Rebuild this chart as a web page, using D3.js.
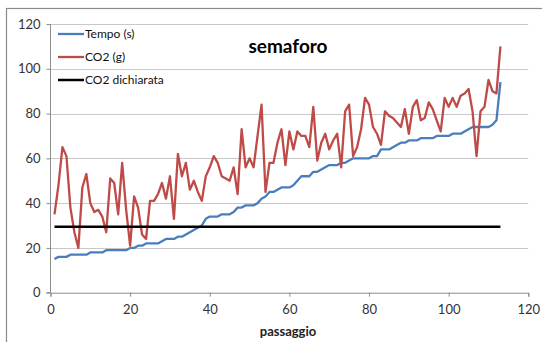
<!DOCTYPE html>
<html><head><meta charset="utf-8">
<script src="https://cdn.jsdelivr.net/npm/d3@7/dist/d3.min.js"></script>
<style>body{margin:0;background:#fff}svg{display:block}</style>
</head><body><svg id="c" width="542" height="342"></svg>
<script>
const passaggio = d3.range(1, 114);
const tempo = [15,16,16,16,17,17,17,17,17,18,18,18,18,19,19,19,19,19,19,20,20,21,21,22,22,22,22,23,24,24,24,25,25,26,27,28,29,30,33,34,34,34,35,35,35,36,38,38,39,39,39,40,42,43,45,45,46,47,47,47,48,50,52,52,52,54,54,55,56,57,57,57,58,58,59,60,60,60,60,60,61,61,64,64,64,65,66,67,67,68,68,68,69,69,69,69,70,70,70,70,71,71,71,72,73,74,74,74,74,74,75,77,94];
const co2 = [35,48,65,61,38,27,20,47,53,40,36,37,34,27,51,49,35,58,37,21,43,38,26,24,41,41,44,49,42,52,33,62,52,58,46,50,45,41,52,56,61,58,52,51,50,56,44,73,56,60,56,70,84,45,58,58,67,73,57,72,64,72,70,70,65,83,59,67,71,64,68,71,56,81,84,61,65,73,87,84,74,71,66,81,79,78,76,74,82,71,83,86,77,78,85,82,77,72,87,83,87,83,88,89,91,81,61,81,83,95,90,89,110];
const co2Dichiarata = 29.4;
const xTicks = [0,20,40,60,80,100,120];
const yTicks = [0,20,40,60,80,100,120];
const seriesNames = ["Tempo (s)","CO2 (g)","CO2 dichiarata"];
const colors = ["#4a7ebb","#be4b48","#000000"];

const svg = d3.select("#c");
const font = "Lato, 'Open Sans', sans-serif";
svg.append("rect").attr("x",6.5).attr("y",8.5).attr("width",600).attr("height",400)
  .attr("fill","#fff").attr("stroke","#8c8c8c").attr("stroke-width",1.2);

const x = d3.scaleLinear().domain([0,120]).range([50.5,528.3]);
const y = d3.scaleLinear().domain([0,120]).range([292.7,24]);

// gridlines
svg.append("g").selectAll("line").data(yTicks.filter(d=>d>0)).join("line")
  .attr("x1",x(0)).attr("x2",x(120)).attr("y1",d=>Math.round(y(d))+0.5).attr("y2",d=>Math.round(y(d))+0.5)
  .attr("stroke","#c8c8c8").attr("stroke-width",1);

// axes
const ya = svg.append("g").attr("transform",`translate(${x(0)},0)`)
  .call(d3.axisLeft(y).tickValues(yTicks).tickSize(4).tickPadding(6));
const xa = svg.append("g").attr("transform",`translate(0,${y(0)})`)
  .call(d3.axisBottom(x).tickValues(xTicks).tickSize(4).tickPadding(8));
[ya,xa].forEach(a=>{
  a.selectAll("path,line").attr("stroke","#8c8c8c");
  a.selectAll("text").attr("font-family",font).attr("font-size",13).attr("fill","#333");
});
ya.select(".domain").attr("d",`M-4,${y(0)}H0V${y(120)}H0`);

const line = (arr)=>d3.line().x((d,i)=>x(passaggio[i])).y(d=>y(d))(arr);
svg.append("path").attr("d",line(tempo)).attr("fill","none").attr("stroke",colors[0]).attr("stroke-width",2.3).attr("stroke-linejoin","round");
svg.append("path").attr("d",line(co2)).attr("fill","none").attr("stroke",colors[1]).attr("stroke-width",2.3).attr("stroke-linejoin","round");
svg.append("line").attr("x1",x(passaggio[0])).attr("x2",x(passaggio[passaggio.length-1]))
  .attr("y1",y(co2Dichiarata)).attr("y2",y(co2Dichiarata)).attr("stroke",colors[2]).attr("stroke-width",2.5);

// title
svg.append("text").attr("x",288).attr("y",53).attr("text-anchor","middle")
  .attr("font-family",font).attr("font-weight","bold").attr("font-size",19).attr("fill","#000").text("semaforo");
svg.append("text").attr("x",288).attr("y",336).attr("text-anchor","middle")
  .attr("font-family",font).attr("font-weight","bold").attr("font-size",13).attr("fill","#222").text("passaggio");

// legend
const lg = svg.append("g");
seriesNames.forEach((n,i)=>{
  const yy = 34 + i*23;
  lg.append("line").attr("x1",58).attr("x2",84).attr("y1",yy).attr("y2",yy).attr("stroke",colors[i]).attr("stroke-width",i==2?2.5:2.3);
  lg.append("text").attr("x",85).attr("y",yy+4).attr("font-family",font).attr("font-size",12).attr("fill","#111").text(n);
});
</script></body></html>
